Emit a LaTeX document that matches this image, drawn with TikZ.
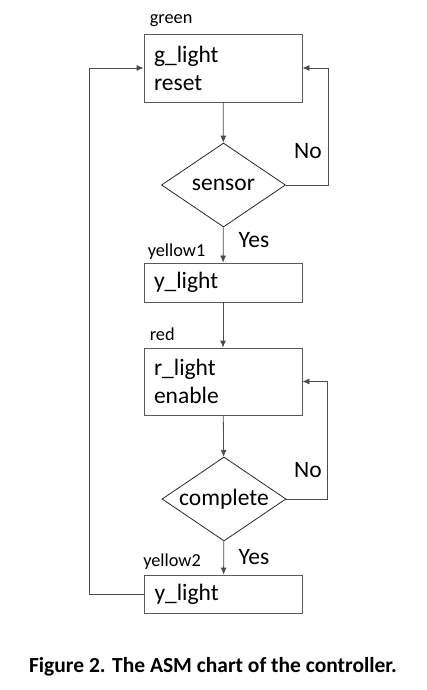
\documentclass[tikz,border=0pt]{standalone}
\usepackage{fontspec}
\setmainfont{Carlito}
\usetikzlibrary{positioning,shapes.geometric,arrows.meta}

\begin{document}
\begin{tikzpicture}[x=1pt,y=-1pt,
    statebox/.style={draw=black!65,line width=0.8pt,minimum width=158pt,minimum height=68pt,
      text width=138pt,align=left,inner xsep=10pt,font=\fontsize{23.5}{28}\selectfont},
    decision/.style={draw=black!85,line width=0.8pt,diamond,minimum width=124pt,minimum height=84pt,
      inner sep=0pt,aspect=1.48,font=\fontsize{23.5}{26}\selectfont},
    tag/.style={anchor=base west,inner sep=0pt,font=\fontsize{18.3}{20}\selectfont},
    answer/.style={inner sep=0pt,font=\fontsize{23.5}{26}\selectfont},
    flow/.style={draw=black!70,line width=0.8pt,-{Latex[length=7pt,width=6pt]}}]
  \useasboundingbox (0,0) rectangle (426,690);
  % states and decisions
  \node[statebox] (G) at (223,68) {g\_light\\reset};
  \node[decision] (S) at (223.5,185) {sensor};
  \node[statebox,minimum height=39pt] (Y1) at (223,282.5) {y\_light};
  \node[statebox,minimum height=67pt] (R) at (223,381.5) {r\_light\\enable};
  \node[decision] (C) at (224,499) {complete};
  \node[statebox,minimum height=38pt] (Y2) at (223.5,594) {y\_light};
  % state names
  \node[tag] (lgreen) at ([xshift=6pt,yshift=10pt]G.north west) {green};
  \node[tag] (lyellowA) at ([xshift=4pt,yshift=6pt]Y1.north west) {yellow1};
  \node[tag] (lred) at ([xshift=6pt,yshift=7pt]R.north west) {red};
  \node[tag] (lyellowB) at ([xshift=-1pt,yshift=8pt]Y2.north west) {yellow2};
  % branch labels
  \node[answer] (noA) at (308,151) {No};
  \node[answer] (yesA) at (254,240) {Yes};
  \node[answer] (noB) at (308,470) {No};
  \node[answer] (yesB) at (254,557) {Yes};
  % connectors
  \draw[flow] (G) -- (S);
  \draw[flow] (S) -- (Y1);
  \draw[flow] (Y1) -- (R);
  \draw[flow] (R) -- (C);
  \draw[flow] (C) -- (Y2);
  \draw[flow] (S.east) -- ++(42,0) |- (G.east);
  \draw[flow] (C.east) -- ++(41,0) |- (R.east);
  \draw[flow] (Y2.west) -- ++(-55,0) |- (G.west);
  % caption
  \node[font=\bfseries\fontsize{21.5}{24}\selectfont] (cap) at (213,667) {Figure 2. The ASM chart of the controller.};
\end{tikzpicture}
\end{document}
